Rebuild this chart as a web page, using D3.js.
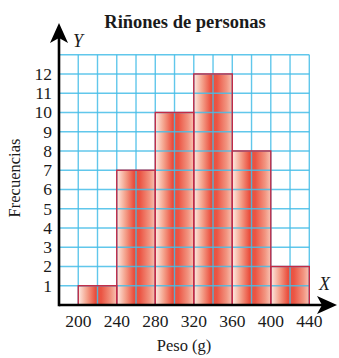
<!DOCTYPE html>
<html>
<head>
<meta charset="utf-8">
<script src="https://cdnjs.cloudflare.com/ajax/libs/d3/7.8.5/d3.min.js"></script>
<style>
  html, body { margin: 0; padding: 0; background: #fff; }
  svg text { font-family: "Liberation Serif", "DejaVu Serif", serif; fill: #1a1a1a; }
</style>
</head>
<body>
<svg width="339" height="358"></svg>
<script>
// histogram data: bin edges (g) and frequencies
var binStarts = [200, 240, 280, 320, 360, 400];
var binWidth = 40;
var frecuencias = [1, 7, 10, 12, 8, 2];
var xTicks = [200, 240, 280, 320, 360, 400, 440];
var yTicks = [1, 2, 3, 4, 5, 6, 7, 8, 9, 10, 11, 12];

var svg = d3.select("svg");

var x = d3.scaleLinear().domain([180, 440]).range([59, 309.3]);
var y = d3.scaleLinear().domain([0, 13]).range([305, 54.7]);

var defs = svg.append("defs");
var grad = defs.append("linearGradient")
    .attr("id", "barGrad")
    .attr("x1", "0%").attr("x2", "100%").attr("y1", "0%").attr("y2", "0%");
grad.append("stop").attr("offset", "0%").attr("stop-color", "#fdebe3");
grad.append("stop").attr("offset", "22%").attr("stop-color", "#f4a28c");
grad.append("stop").attr("offset", "45%").attr("stop-color", "#ea4d3c");
grad.append("stop").attr("offset", "60%").attr("stop-color", "#eb5544");
grad.append("stop").attr("offset", "85%").attr("stop-color", "#f29480");
grad.append("stop").attr("offset", "100%").attr("stop-color", "#f8c4b4");

// bars
svg.append("g").selectAll("rect")
    .data(frecuencias)
    .enter().append("rect")
    .attr("x", function(d, i) { return x(binStarts[i]); })
    .attr("y", function(d) { return y(d); })
    .attr("width", function(d, i) { return x(binStarts[i] + binWidth) - x(binStarts[i]); })
    .attr("height", function(d) { return y(0) - y(d); })
    .attr("fill", "url(#barGrad)");

// grid on top of bars
var grid = svg.append("g")
    .attr("stroke", "#45bde8")
    .attr("stroke-width", 1.4)
    .attr("stroke-opacity", 0.85);

grid.selectAll("line.v")
    .data(d3.range(200, 441, 20))
    .enter().append("line")
    .attr("x1", function(d) { return x(d); })
    .attr("x2", function(d) { return x(d); })
    .attr("y1", y(0))
    .attr("y2", y(13));

grid.selectAll("line.h")
    .data(d3.range(1, 14))
    .enter().append("line")
    .attr("x1", x(180))
    .attr("x2", x(440))
    .attr("y1", function(d) { return y(d); })
    .attr("y2", function(d) { return y(d); });

// bar outlines
svg.append("g").selectAll("rect")
    .data(frecuencias)
    .enter().append("rect")
    .attr("x", function(d, i) { return x(binStarts[i]); })
    .attr("y", function(d) { return y(d); })
    .attr("width", function(d, i) { return x(binStarts[i] + binWidth) - x(binStarts[i]); })
    .attr("height", function(d) { return y(0) - y(d); })
    .attr("fill", "none")
    .attr("stroke", "#c42a45")
    .attr("stroke-width", 1.4);

// axes
var axes = svg.append("g");
axes.append("line")
    .attr("x1", x(180)).attr("x2", 322)
    .attr("y1", y(0)).attr("y2", y(0))
    .attr("stroke", "#000").attr("stroke-width", 2.6);
axes.append("line")
    .attr("x1", x(180)).attr("x2", x(180))
    .attr("y1", y(0) + 1.3).attr("y2", 38)
    .attr("stroke", "#000").attr("stroke-width", 2.6);
// arrow heads
axes.append("path")
    .attr("d", "M337," + y(0) + " L317," + (y(0) - 9) + " L322," + y(0) + " L317," + (y(0) + 9) + "Z")
    .attr("fill", "#000");
axes.append("path")
    .attr("d", "M" + x(180) + ",23 L" + (x(180) - 9) + ",43 L" + x(180) + ",38 L" + (x(180) + 9) + ",43Z")
    .attr("fill", "#000");

// tick labels
svg.append("g").selectAll("text")
    .data(yTicks)
    .enter().append("text")
    .attr("x", 52)
    .attr("y", function(d) { return y(d) + 6; })
    .attr("text-anchor", "end")
    .attr("font-size", 17.5)
    .text(function(d) { return d; });

svg.append("g").selectAll("text")
    .data(xTicks)
    .enter().append("text")
    .attr("x", function(d) { return x(d); })
    .attr("y", 327)
    .attr("text-anchor", "middle")
    .attr("font-size", 17.5)
    .text(function(d) { return d; });

// titles & labels
svg.append("text")
    .attr("x", 185).attr("y", 28)
    .attr("text-anchor", "middle")
    .attr("font-size", 18.5)
    .attr("font-weight", "bold")
    .text("Riñones de personas");

svg.append("text")
    .attr("x", 184).attr("y", 351)
    .attr("text-anchor", "middle")
    .attr("font-size", 16.5)
    .text("Peso (g)");

svg.append("text")
    .attr("transform", "translate(20,178) rotate(-90)")
    .attr("text-anchor", "middle")
    .attr("font-size", 16.5)
    .text("Frecuencias");

svg.append("text")
    .attr("x", 73).attr("y", 47)
    .attr("font-size", 18)
    .attr("font-style", "italic")
    .text("Y");

svg.append("text")
    .attr("x", 319).attr("y", 290)
    .attr("font-size", 18)
    .attr("font-style", "italic")
    .text("X");
</script>
</body>
</html>
